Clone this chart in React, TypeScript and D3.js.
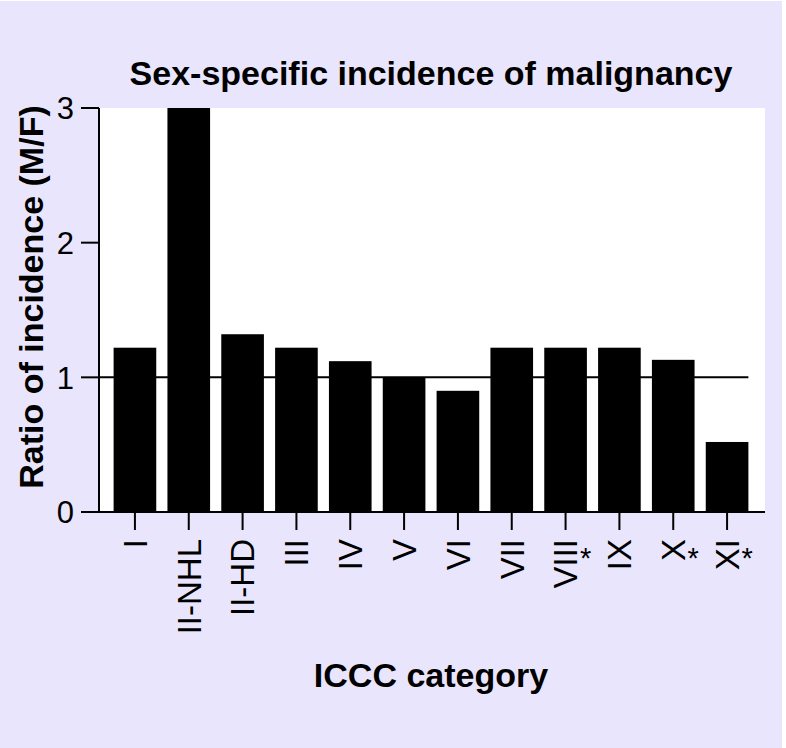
import React from "react";
import * as d3 from "d3";

const categories = ["I", "II-NHL", "II-HD", "III", "IV", "V", "VI", "VII", "VIII", "IX", "X", "XI"];
const ratios = [1.22, 3.0, 1.32, 1.22, 1.12, 1.0, 0.9, 1.22, 1.22, 1.22, 1.13, 0.52];
const significant = [false, false, false, false, false, false, false, false, true, false, true, true];
const yTicks = [0, 1, 2, 3];
const referenceValue = 1;
const title = "Sex-specific incidence of malignancy";
const xTitle = "ICCC category";
const yTitle = "Ratio of incidence (M/F)";

const W = 786;
const H = 748;
const plot = { left: 99, right: 765, top: 108, bottom: 512 };
const FONT = "'Liberation Sans', Arial, Helvetica, sans-serif";
const BG = "#e9e5fc";

export default function App() {
  const x = d3
    .scaleBand<string>()
    .domain(categories)
    .range([98, 764])
    .paddingInner(0.208)
    .paddingOuter(0.29);
  const y = d3.scaleLinear().domain([0, 3]).range([plot.bottom, plot.top]);
  const bw = x.bandwidth();
  const lastRight = (x(categories[categories.length - 1]) ?? 0) + bw;

  return (
    <svg
      width={W}
      height={H}
      style={{ position: "absolute", left: 0, top: 0, display: "block" }}
      fontFamily={FONT}
    >
      <rect x={0} y={0} width={W} height={H} fill="#ffffff" />
      <rect x={0} y={1} width={782} height={H - 1} fill={BG} />
      <rect
        x={plot.left}
        y={plot.top}
        width={plot.right - plot.left}
        height={plot.bottom - plot.top}
        fill="#ffffff"
      />
      {/* reference line */}
      <line
        x1={plot.left}
        x2={lastRight}
        y1={y(referenceValue)}
        y2={y(referenceValue)}
        stroke="#000"
        strokeWidth={2}
      />
      {/* bars */}
      {categories.map((c, i) => (
        <rect
          key={c}
          x={x(c)}
          y={y(ratios[i])}
          width={bw}
          height={y(0) - y(ratios[i])}
          fill="#000"
        />
      ))}
      {/* y axis */}
      <line x1={plot.left} x2={plot.left} y1={y(3)} y2={y(0)} stroke="#000" strokeWidth={2} />
      {yTicks.map((t) => (
        <g key={t} transform={`translate(0,${y(t)})`}>
          <line x1={81} x2={plot.left} y1={0} y2={0} stroke="#000" strokeWidth={2} />
          <text x={74} y={0} dy="0.36em" textAnchor="end" fontSize={31} fill="#000">
            {t}
          </text>
        </g>
      ))}
      {/* x axis */}
      <line x1={plot.left} x2={plot.right} y1={y(0)} y2={y(0)} stroke="#000" strokeWidth={2} />
      {categories.map((c, i) => {
        const cx = (x(c) ?? 0) + bw / 2;
        return (
          <g key={c} transform={`translate(${cx},0)`}>
            <line x1={0} x2={0} y1={y(0)} y2={y(0) + 18} stroke="#000" strokeWidth={2} />
            <text
              transform={`translate(0,539) rotate(-90)`}
              dy="0.36em"
              textAnchor="end"
              fontSize={33}
              fill="#000"
            >
              {c}
            </text>
            {significant[i] && (
              <text x={20} y={568} textAnchor="middle" fontSize={29} fill="#000">
                *
              </text>
            )}
          </g>
        );
      })}
      {/* titles */}
      <text x={431} y={85} textAnchor="middle" fontSize={34} fontWeight="bold" fill="#000">
        {title}
      </text>
      <text x={431} y={687} textAnchor="middle" fontSize={34} fontWeight="bold" fill="#000">
        {xTitle}
      </text>
      <text
        transform={`translate(43,297) rotate(-90)`}
        textAnchor="middle"
        fontSize={34}
        fontWeight="bold"
        fill="#000"
      >
        {yTitle}
      </text>
    </svg>
  );
}
